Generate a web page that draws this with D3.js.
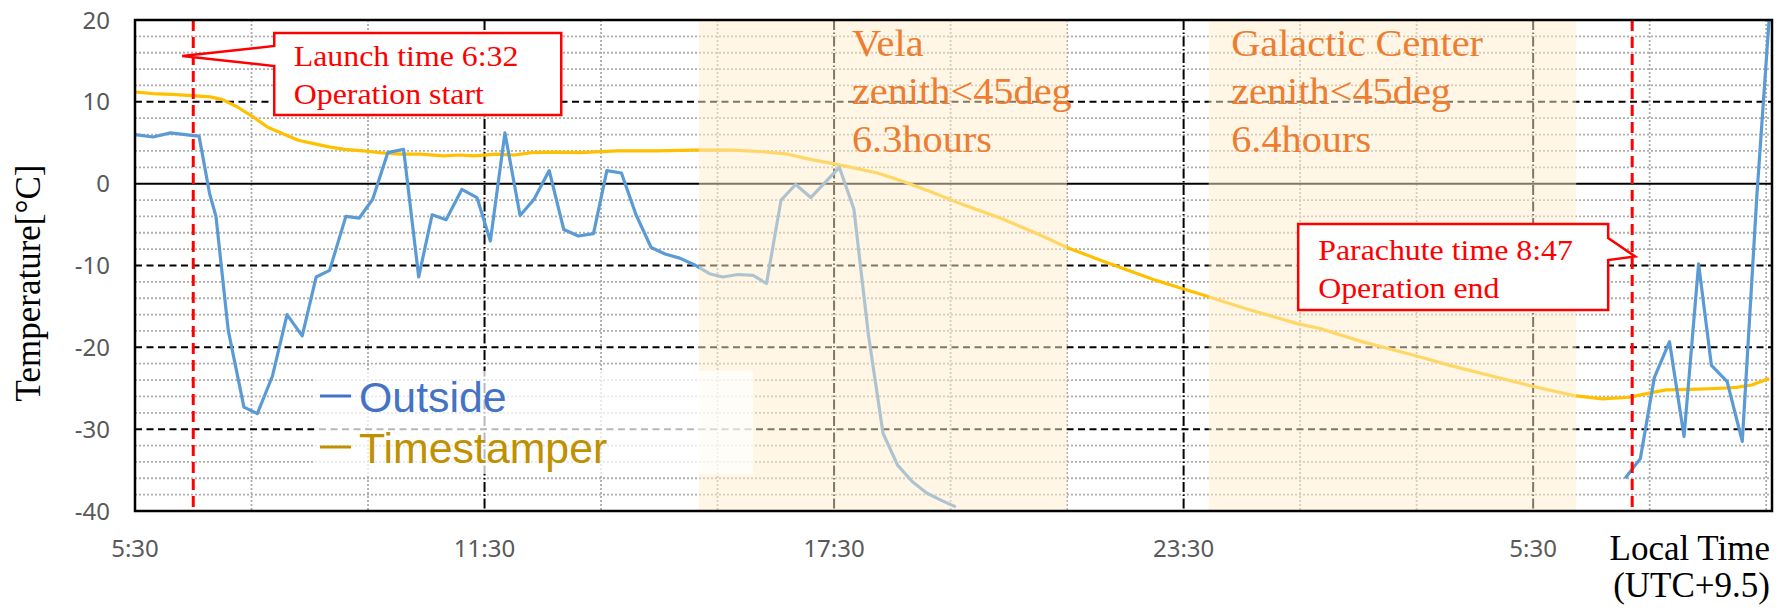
<!DOCTYPE html>
<html>
<head>
<meta charset="utf-8">
<script src="https://cdn.jsdelivr.net/npm/d3@7"></script>
<style>
  html, body { margin: 0; padding: 0; background: #ffffff; }
  svg { display: block; }
</style>
</head>
<body>
<svg id="chart" width="1776" height="610"></svg>
<script>
// Balloon flight temperature log. Time is in hours elapsed since 5:30 local time.

// Outside sensor (null marks the interval with no readings)
const outsideHours = [
  0, 0.31, 0.61, 0.97, 1.10, 1.28, 1.39, 1.60, 1.87, 2.10,
  2.36, 2.61, 2.87, 3.11, 3.34, 3.62, 3.85, 4.08, 4.34, 4.61,
  4.87, 5.10, 5.34, 5.61, 5.87, 6.10, 6.35, 6.61, 6.85, 7.11,
  7.36, 7.61, 7.87, 8.10, 8.35, 8.60, 8.86, 9.10, 9.35, 9.60,
  9.86, 10.09, 10.35, 10.61, 10.84, 11.09, 11.34, 11.60, 12.09, 12.34,
  12.59, 12.84, 13.09, 13.34, 13.59, 13.84, 14.09, 20.0,
  25.58, 25.84, 26.08, 26.34, 26.59, 26.84, 27.06, 27.33, 27.59, 27.84,
  28.05
];
const outsideTemp = [
  6.0, 5.7, 6.2, 5.9, 5.8, -1.2, -4.0, -17.9, -27.3, -28.1,
  -23.5, -16.0, -18.6, -11.4, -10.6, -4.0, -4.2, -1.9, 3.8, 4.2,
  -11.4, -3.8, -4.4, -0.7, -1.7, -7.0, 6.2, -3.9, -1.9, 1.6,
  -5.6, -6.4, -6.1, 1.6, 1.3, -3.8, -7.8, -8.6, -9.1, -9.9,
  -11.0, -11.4, -11.1, -11.2, -12.2, -2.0, -0.1, -1.7, 2.0, -3.1,
  -18.5, -30.5, -34.4, -36.4, -37.8, -38.7, -39.5, null,
  -36.0, -33.6, -23.7, -19.3, -30.9, -9.8, -22.2, -24.2, -31.5, -1.5,
  20.0
];

// Timestamper board
const stamperHours = [
  0, 0.31, 0.63, 0.97, 1.29, 1.49, 1.75, 2.02, 2.28, 2.54,
  2.80, 3.07, 3.33, 3.59, 3.92, 4.25, 4.57, 4.90, 5.30, 5.56,
  5.82, 6.21, 6.51, 6.81, 7.20, 7.63, 8.29, 8.94, 9.60, 10.25,
  10.78, 11.21, 11.57, 12.09, 12.75, 13.21, 13.66, 14.19, 14.85, 15.50,
  16.00, 16.55, 17.21, 17.54, 17.92, 18.24, 19.03, 19.95, 20.34, 21.06,
  21.92, 22.57, 23.29, 23.95, 24.70, 25.19, 25.65, 26.05, 26.28, 26.84,
  27.23, 27.49, 27.75, 28.05
];
const stamperTemp = [
  11.2, 11.0, 10.9, 10.75, 10.6, 10.3, 9.4, 8.2, 6.9, 6.1,
  5.3, 4.9, 4.5, 4.2, 4.0, 3.75, 3.6, 3.6, 3.4, 3.5,
  3.4, 3.6, 3.5, 3.8, 3.85, 3.8, 4.0, 4.0, 4.1, 4.1,
  3.9, 3.6, 3.0, 2.3, 1.3, 0.2, -1.0, -2.5, -4.2, -6.15,
  -7.8, -9.3, -11.0, -11.85, -12.7, -13.4, -15.2, -17.1, -17.7, -19.3,
  -20.9, -22.2, -23.5, -24.7, -25.9, -26.3, -26.1, -25.5, -25.2, -25.1,
  -25.0, -24.9, -24.6, -23.8
];

// Axes
const xMajorHours = [0, 6, 12, 18, 24];
const xTickLabels = ["5:30", "11:30", "17:30", "23:30", "5:30"];
const xMinorHours = [2, 4, 8, 10, 14, 16, 20, 22, 26, 28];
const yMajorTicks = [20, 10, 0, -10, -20, -30, -40];
const yMinorTicks = [18, 16, 14, 12, 8, 6, 4, 2, -2, -4, -6, -8, -12, -14, -16, -18,
                     -22, -24, -26, -28, -32, -34, -36, -38];

// Events and observation windows
const launchHour = 1.0;
const parachuteHour = 25.7;
const velaWindow = [9.68, 16.0];
const gcWindow = [18.43, 24.74];
const velaLines = ["Vela", "zenith<45deg", "6.3hours"];
const gcLines = ["Galactic Center", "zenith<45deg", "6.4hours"];
const launchLines = ["Launch time 6:32", "Operation start"];
const parachuteLines = ["Parachute time 8:47", "Operation end"];
const seriesNames = ["Outside", "Timestamper"];

// ---- layout ----
const svg = d3.select("#chart");
const L = 135, R = 1772, T = 20, B = 511;
const x = d3.scaleLinear().domain([0, 28.1]).range([L, R]);
const y = d3.scaleLinear().domain([-40, 20]).range([B, T]);

const SANS = "'Noto Sans', 'Open Sans', sans-serif";
const LEGEND_SANS = "'Liberation Sans', Arial, sans-serif";
const SERIF = "'Liberation Serif', 'DejaVu Serif', serif";

svg.append("defs").append("clipPath").attr("id", "plotClip")
  .append("rect").attr("x", L).attr("y", T).attr("width", R - L).attr("height", B - T);

// ---- gridlines ----
const grid = svg.append("g");
grid.selectAll("line.hmin").data(yMinorTicks).join("line")
  .attr("x1", L).attr("x2", R).attr("y1", d => y(d)).attr("y2", d => y(d))
  .attr("stroke", "#adadad").attr("stroke-width", 1.8).attr("stroke-dasharray", "2,2");
grid.selectAll("line.vmin").data(xMinorHours).join("line")
  .attr("x1", d => x(d)).attr("x2", d => x(d)).attr("y1", T).attr("y2", B)
  .attr("stroke", "#adadad").attr("stroke-width", 1.8).attr("stroke-dasharray", "2,2");
grid.selectAll("line.hmaj").data(yMajorTicks.filter(d => d !== 0 && d !== 20 && d !== -40)).join("line")
  .attr("x1", L).attr("x2", R).attr("y1", d => y(d)).attr("y2", d => y(d))
  .attr("stroke", "#000").attr("stroke-width", 2).attr("stroke-dasharray", "7,4.5");
grid.selectAll("line.vmaj").data(xMajorHours.filter(d => d > 0)).join("line")
  .attr("x1", d => x(d)).attr("x2", d => x(d)).attr("y1", T).attr("y2", B)
  .attr("stroke", "#000").attr("stroke-width", 2).attr("stroke-dasharray", "10,2.5,1.5,2.5");
grid.append("line")
  .attr("x1", L).attr("x2", R).attr("y1", y(0)).attr("y2", y(0))
  .attr("stroke", "#000").attr("stroke-width", 2);

// ---- series ----
const outsideData = outsideHours.map((h, i) => ({ h, t: outsideTemp[i] }));
const stamperData = stamperHours.map((h, i) => ({ h, t: stamperTemp[i] }));
const line = d3.line().defined(d => d.t !== null).x(d => x(d.h)).y(d => y(d.t));
const series = svg.append("g").attr("clip-path", "url(#plotClip)");
series.append("path").datum(stamperData).attr("d", line)
  .attr("fill", "none").attr("stroke", "#ffc000").attr("stroke-width", 3.2)
  .attr("stroke-linejoin", "round");
series.append("path").datum(outsideData).attr("d", line)
  .attr("fill", "none").attr("stroke", "#5b9bd5").attr("stroke-width", 3.2)
  .attr("stroke-linejoin", "round");

// ---- observation windows (translucent wash over everything below) ----
svg.selectAll("rect.window").data([velaWindow, gcWindow]).join("rect")
  .attr("x", d => x(d[0])).attr("width", d => x(d[1]) - x(d[0]))
  .attr("y", T).attr("height", B - T)
  .attr("fill", "#ffedcc").attr("fill-opacity", 0.5);

// ---- event markers ----
svg.selectAll("line.event").data([launchHour, parachuteHour]).join("line")
  .attr("x1", d => x(d)).attr("x2", d => x(d)).attr("y1", T).attr("y2", B + 2)
  .attr("stroke", "#ff0000").attr("stroke-width", 3).attr("stroke-dasharray", "11,6");

// ---- plot frame ----
svg.append("rect").attr("x", L).attr("y", T).attr("width", R - L).attr("height", B - T)
  .attr("fill", "none").attr("stroke", "#000").attr("stroke-width", 2.5);

// ---- legend ----
const lg = svg.append("g");
lg.append("rect").attr("x", 314).attr("y", 371).attr("width", 439).attr("height", 103)
  .attr("fill", "#ffffff").attr("fill-opacity", 0.72);
const legendColors = ["#4472c4", "#bf9000"];
seriesNames.forEach((name, i) => {
  const cy = 396 + i * 51;
  lg.append("line").attr("x1", 320).attr("x2", 351).attr("y1", cy).attr("y2", cy)
    .attr("stroke", legendColors[i]).attr("stroke-width", 3);
  lg.append("text")
    .attr("transform", `translate(359,${cy + 15.5}) scale(1.02,1)`)
    .attr("font-family", LEGEND_SANS).attr("font-size", 42).attr("fill", legendColors[i])
    .text(name);
});

// ---- window captions ----
function captions(lines, x0, color) {
  const g = svg.append("g");
  lines.forEach((s, i) => {
    g.append("text")
      .attr("transform", `translate(${x0},${T + 36 + i * 48}) scale(1.09,1)`)
      .attr("font-family", SERIF).attr("font-size", 37).attr("fill", color)
      .text(s);
  });
}
captions(velaLines, x(velaWindow[0]) + 153, "#ed7d31");
captions(gcLines, x(gcWindow[0]) + 22.5, "#ed7d31");

// ---- callouts ----
function calloutText(lines, x0, y0) {
  lines.forEach((s, i) => {
    svg.append("text")
      .attr("transform", `translate(${x0},${y0 + i * 38}) scale(1.08,1)`)
      .attr("font-family", SERIF).attr("font-size", 29.5).attr("fill", "#ff0000")
      .text(s);
  });
}
// launch: box to the right, wedge pointing left at the marker
{
  const tx = x(launchHour) - 11, ty = 56;
  const bx = tx + 92, bw = 287, by = 33, bh = 82;
  const p = d3.path();
  p.moveTo(bx, by); p.lineTo(bx + bw, by); p.lineTo(bx + bw, by + bh);
  p.lineTo(bx, by + bh); p.lineTo(bx, ty + 10); p.lineTo(tx, ty); p.lineTo(bx, ty - 10);
  p.closePath();
  svg.append("path").attr("d", p.toString())
    .attr("fill", "#fff").attr("stroke", "#ff0000").attr("stroke-width", 2.5)
    .attr("stroke-linejoin", "miter");
  calloutText(launchLines, bx + 19.5, 66);
}
// parachute: box to the left, wedge pointing right at the marker
{
  const tx = x(parachuteHour) + 3, ty = 256.5;
  const bx1 = tx - 27, bx0 = bx1 - 310, by = 224, bh = 86;
  const p = d3.path();
  p.moveTo(bx0, by); p.lineTo(bx1, by); p.lineTo(bx1, 238); p.lineTo(tx, ty);
  p.lineTo(bx1, 260); p.lineTo(bx1, by + bh); p.lineTo(bx0, by + bh);
  p.closePath();
  svg.append("path").attr("d", p.toString())
    .attr("fill", "#fff").attr("stroke", "#ff0000").attr("stroke-width", 2.5)
    .attr("stroke-linejoin", "miter");
  calloutText(parachuteLines, bx0 + 20, 260);
}

// ---- axis labels ----
svg.append("g").selectAll("text").data(yMajorTicks).join("text")
  .attr("x", 110).attr("y", d => y(d) + 8.5)
  .attr("text-anchor", "end")
  .attr("font-family", SANS).attr("font-size", 24).attr("fill", "#595959")
  .text(d => d);
svg.append("g").selectAll("text").data(xMajorHours).join("text")
  .attr("x", d => x(d)).attr("y", 557)
  .attr("text-anchor", "middle")
  .attr("font-family", SANS).attr("font-size", 24).attr("fill", "#595959")
  .text((d, i) => xTickLabels[i]);

svg.append("text")
  .attr("transform", "translate(40,283) rotate(-90)")
  .attr("text-anchor", "middle")
  .attr("font-family", SERIF).attr("font-size", 35).attr("fill", "#000")
  .text("Temperature[°C]");
svg.append("text").attr("x", 1770).attr("y", 560).attr("text-anchor", "end")
  .attr("font-family", SERIF).attr("font-size", 35).attr("fill", "#000")
  .text("Local Time");
svg.append("text").attr("x", 1770).attr("y", 597).attr("text-anchor", "end")
  .attr("font-family", SERIF).attr("font-size", 35).attr("fill", "#000")
  .text("(UTC+9.5)");
</script>
</body>
</html>
